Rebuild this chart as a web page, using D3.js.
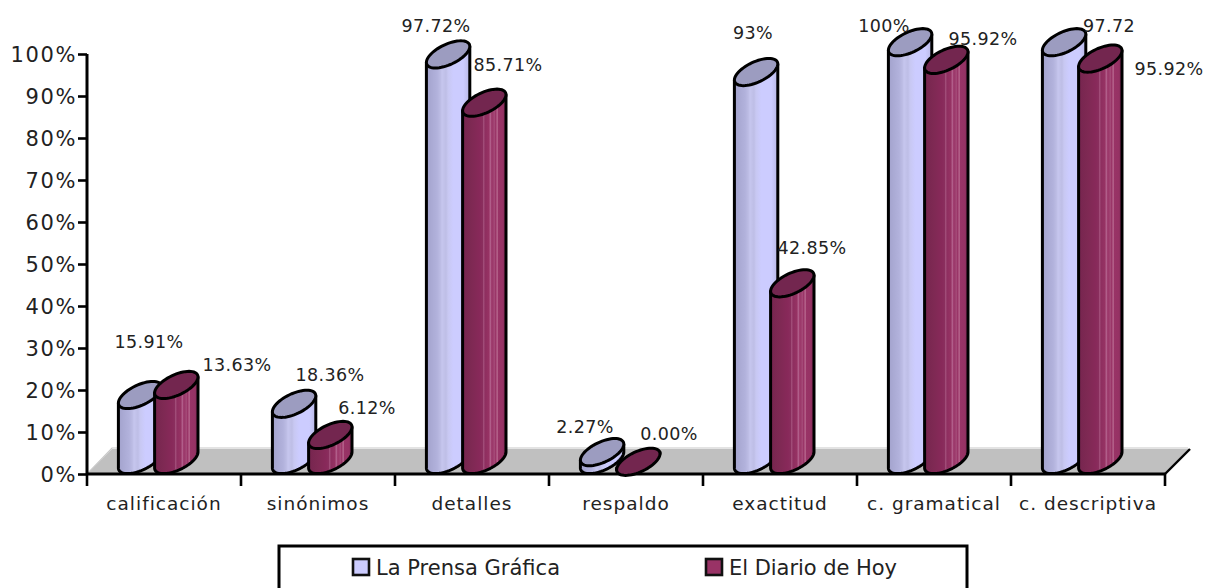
<!DOCTYPE html>
<html><head><meta charset="utf-8">
<script src="https://cdn.jsdelivr.net/npm/d3@7"></script>
<style>html,body{margin:0;padding:0;background:#fff;overflow:hidden}svg{display:block}
text{font-family:"DejaVu Sans",sans-serif;fill:#222}</style></head>
<body><svg id="c" width="1207" height="588"></svg>
<script>
const categories = ["calificación","sinónimos","detalles","respaldo","exactitud","c. gramatical","c. descriptiva"];
const seriesNames = ["La Prensa Gráfica","El Diario de Hoy"];
const prensaHeights = [16.9,14.8,98,3.3,93.8,100.9,100.9];
const diarioHeights = [19.3,7.4,86.5,1,43.5,96.7,97];
const prensaLabels = ["15.91%","18.36%","97.72%","2.27%","93%","100%","97.72"];
const diarioLabels = ["13.63%","6.12%","85.71%","0.00%","42.85%","95.92%","95.92%"];
const yTicks = [0,10,20,30,40,50,60,70,80,90,100];

const prensaLabelNudge = [[31,-55],[58,-31],[10,-30],[5,-27],[19,-41],[-4,-18],[67,-18]];
const diarioLabelNudge = [[82,-22],[58,-29],[45,-40],[52,-30],[41,-37],[58,-23],[90,8]];

const svg = d3.select("#c");
const defs = svg.append("defs");
const y = d3.scaleLinear().domain([0,100]).range([474,54]);
const x = d3.scaleBand().domain(categories).range([87,1165]);
const R = 21.7, K = 8, B = 11;

function grad(id, stops){
  const g = defs.append("linearGradient").attr("id",id);
  stops.forEach(([o,c])=>g.append("stop").attr("offset",o).attr("stop-color",c));
}
grad("gL",[[0,"#a2a2cc"],[.12,"#aaaad4"],[.25,"#b2b2dc"],[.32,"#bcbce4"],[.36,"#c6c6ee"],[.45,"#bebee6"],[.5,"#c8c8f2"],[.62,"#ccccff"],[.85,"#ccccff"],[1,"#b8b8e4"]]);
grad("gD",[[0,"#76254f"],[.2,"#7e2953"],[.4,"#88295a"],[.47,"#8a2f5e"],[.49,"#b0608a"],[.51,"#8d2e5f"],[.6,"#963263"],[.65,"#b56590"],[.67,"#993366"],[.74,"#a54a78"],[.76,"#993366"],[.8,"#b8688f"],[.82,"#993366"],[.92,"#963264"],[1,"#7e2a55"]]);

// floor
svg.append("path").attr("d",d3.line()([[87,474],[112,449],[1190,449],[1165,474]])+"Z").attr("fill","#c0c0c0");
svg.append("path").attr("d",d3.line()([[87,474],[112,448],[1188,448]])).attr("fill","none").attr("stroke","#c8c8c8").attr("stroke-width",1.2);
svg.append("line").attr("x1",1165).attr("y1",474).attr("x2",1190).attr("y2",449).attr("stroke","#000").attr("stroke-width",2.4);

// axes
const ya = svg.append("g").attr("transform","translate(87,0)").call(d3.axisLeft(y).tickValues(yTicks).tickFormat(d=>d+"%").tickSize(9).tickPadding(1));
ya.select(".domain").attr("stroke","#000").attr("stroke-width",3).attr("d","M0,54V474");
ya.selectAll("line").attr("stroke","#000").attr("stroke-width",2.6);
ya.selectAll("text").attr("font-size",21).attr("letter-spacing",1.6).attr("fill","#222").attr("font-family",'"DejaVu Sans"').attr("y",1);

const xa = svg.append("g").attr("transform","translate(0,474)");
xa.append("line").attr("x1",87).attr("x2",1165).attr("stroke","#000").attr("stroke-width",3);
const edges = categories.map(c=>x(c)).concat([x.range()[1]]);
xa.selectAll(".t").data(edges).join("line").attr("x1",d=>d).attr("x2",d=>d).attr("y1",0).attr("y2",12).attr("stroke","#000").attr("stroke-width",2.6);
xa.selectAll("text").data(categories).join("text").attr("x",c=>x(c)+x.bandwidth()/2).attr("y",36)
  .attr("text-anchor","middle").attr("font-size",18.5).attr("letter-spacing",1).text(c=>c);

// cylinders
const ts = d3.range(0,61).map(i=>Math.PI*i/60);
const line = d3.line();
const arcPts = (cx,cy,a,b)=>ts.map(t=>{const u=a+(b-a)*t/Math.PI;return [cx+R*Math.cos(u),cy-K*Math.cos(u)+B*Math.sin(u)];});
function drawCyl(cat,val,offset,fillId,topFill){
  const left = x(cat)+offset, cx = left+R, ytop = y(val), cyT = ytop-K, cyB = 460;
  const front = arcPts(cx,cyB,Math.PI,0);
  const body = [[left,ytop]].concat(front,[[cx+R,cyT-K]]);
  const g = svg.append("g");
  g.append("path").attr("d",line(body)+"Z").attr("fill",`url(#${fillId})`).attr("stroke","#000").attr("stroke-width",3).attr("stroke-linejoin","round");
  const top = arcPts(cx,cyT,0,Math.PI*2);
  g.append("path").attr("d",line(top)+"Z").attr("fill",topFill).attr("stroke","#000").attr("stroke-width",3);
}
categories.forEach((c,i)=>{
  drawCyl(c,prensaHeights[i],31.4,"gL","#9c9cc0");
  drawCyl(c,diarioHeights[i],67.6,"gD","#73264f");
});

// data labels
categories.forEach((c,i)=>{
  [[prensaLabels,prensaHeights,prensaLabelNudge,31],[diarioLabels,diarioHeights,diarioLabelNudge,68]].forEach(([l,h,n,o])=>{
    svg.append("text").attr("x",x(c)+o+n[i][0]).attr("y",y(h[i])+n[i][1]).attr("text-anchor","middle")
      .attr("font-size",17.5).attr("letter-spacing",.35).text(l[i]);
  });
});

// legend
svg.append("rect").attr("x",279).attr("y",546).attr("width",688).attr("height",60).attr("fill","#fff").attr("stroke","#000").attr("stroke-width",3);
[[353,"#ccccff",184],[706,"#993366",168]].forEach(([lx,col,len],i)=>{
  svg.append("rect").attr("x",lx).attr("y",559).attr("width",16).attr("height",16).attr("fill",col).attr("stroke","#111").attr("stroke-width",2.6);
  svg.append("text").attr("x",lx+23).attr("y",575).attr("font-size",21).attr("font-family",'"Liberation Sans"')
    .attr("textLength",len).attr("lengthAdjust","spacing").attr("letter-spacing",0).text(seriesNames[i]);
});
</script></body></html>
